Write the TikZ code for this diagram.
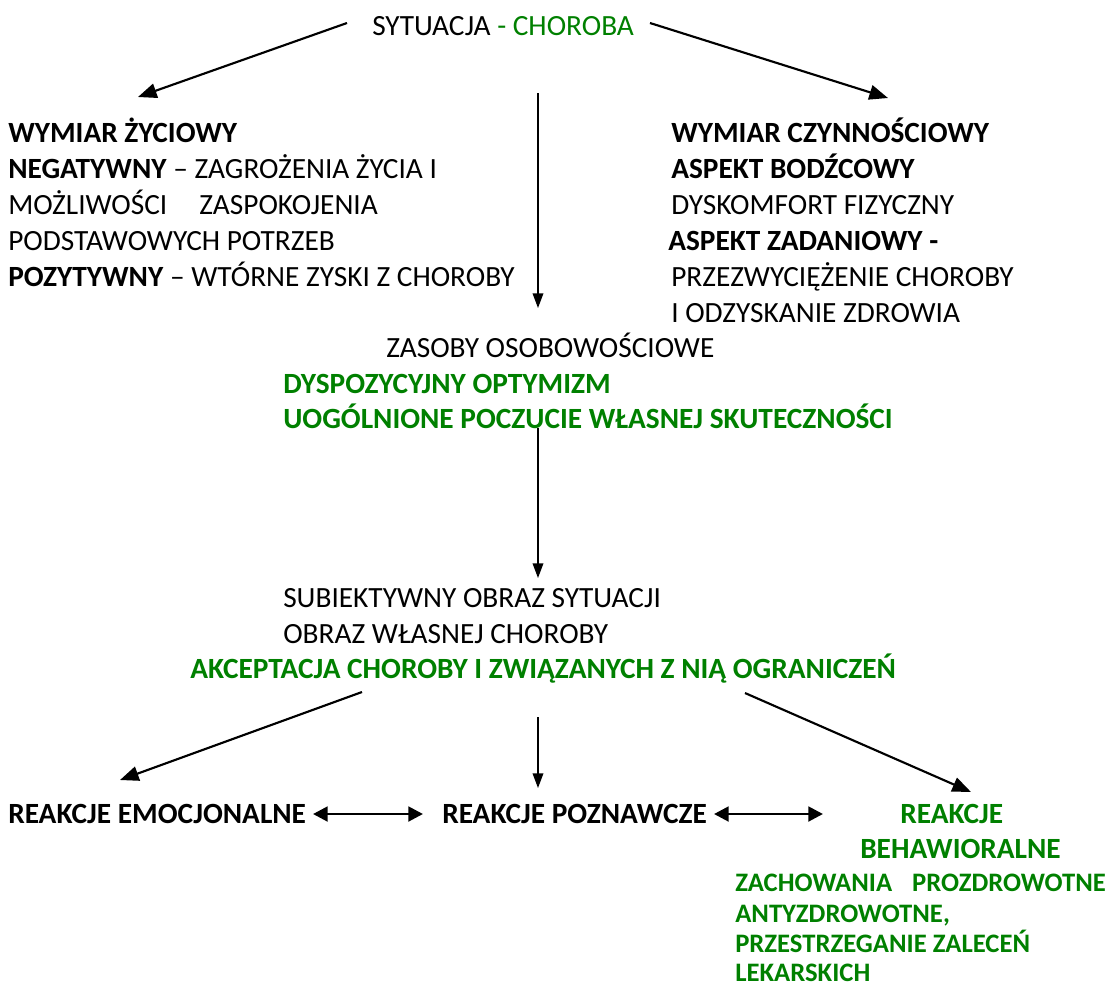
\documentclass[tikz,border=0pt]{standalone}
\usepackage{fontspec}
\setmainfont{Carlito}
\usetikzlibrary{arrows.meta}
\definecolor{zielen}{RGB}{0,128,0}

\begin{document}
\begin{tikzpicture}[x=0.75pt,y=-0.75pt,
    tekst/.style={anchor=base west,inner sep=0pt,font=\fontsize{22}{27}\selectfont},
    maly/.style={anchor=base west,inner sep=0pt,font=\fontsize{20}{24}\selectfont\bfseries,text=zielen},
    skos/.style={line width=1.6pt,-{Triangle[length=14pt,width=11pt]}},
    pion/.style={line width=1pt,-{Triangle[length=11pt,width=8pt]}},
    obustr/.style={line width=2.2pt,{Triangle[length=11pt,width=11pt]}-{Triangle[length=11pt,width=11pt]}}]
        \useasboundingbox (0,0) rectangle (1110,990);
        % gora
        \node[tekst] (sytuacja) at (372,35) {SYTUACJA \textcolor{zielen}{- CHOROBA}};
        % wymiar zyciowy
        \node[tekst] (zyc1) at (8,142) {\textbf{WYMIAR ŻYCIOWY}};
        \node[tekst] (zyc2) at (8,178) {\textbf{NEGATYWNY} – ZAGROŻENIA ŻYCIA I};
        \node[tekst] (zyc3) at (8,214) {MOŻLIWOŚCI\hspace{24pt}ZASPOKOJENIA};
        \node[tekst] (zyc4) at (8,250) {PODSTAWOWYCH POTRZEB};
        \node[tekst] (zyc5) at (8,286) {\textbf{POZYTYWNY} – WTÓRNE ZYSKI Z CHOROBY};
        % wymiar czynnosciowy
        \node[tekst] (czy1) at (671,142) {\textbf{WYMIAR CZYNNOŚCIOWY}};
        \node[tekst] (czy2) at (671,178) {\textbf{ASPEKT BODŹCOWY}};
        \node[tekst] (czy3) at (671,214) {DYSKOMFORT FIZYCZNY};
        \node[tekst] (czy4) at (668,250) {\textbf{ASPEKT ZADANIOWY -}};
        \node[tekst] (czy5) at (671,286) {PRZEZWYCIĘŻENIE CHOROBY};
        \node[tekst] (czy6) at (671,322) {I ODZYSKANIE ZDROWIA};
        % zasoby
        \node[tekst] (zas1) at (386,357) {ZASOBY OSOBOWOŚCIOWE};
        \node[tekst,text=zielen,font=\fontsize{22}{27}\selectfont\bfseries] (zas2) at (283,393) {DYSPOZYCYJNY OPTYMIZM};
        \node[tekst,text=zielen,font=\fontsize{22}{27}\selectfont\bfseries] (zas3) at (283,428) {UOGÓLNIONE POCZUCIE WŁASNEJ SKUTECZNOŚCI};
        % obraz
        \node[tekst] (obr1) at (283,607) {SUBIEKTYWNY OBRAZ SYTUACJI};
        \node[tekst] (obr2) at (283,643) {OBRAZ WŁASNEJ CHOROBY};
        \node[tekst,text=zielen,font=\fontsize{22}{27}\selectfont\bfseries] (obr3) at (190,678) {AKCEPTACJA CHOROBY I ZWIĄZANYCH Z NIĄ OGRANICZEŃ};
        % reakcje
        \node[tekst,font=\fontsize{22}{27}\selectfont\bfseries] (emo) at (8,823) {REAKCJE EMOCJONALNE};
        \node[tekst,font=\fontsize{22}{27}\selectfont\bfseries] (pozn) at (442,823) {REAKCJE POZNAWCZE};
        \node[tekst,text=zielen,font=\fontsize{22}{27}\selectfont\bfseries] (beh1) at (900,823) {REAKCJE};
        \node[tekst,text=zielen,font=\fontsize{22}{27}\selectfont\bfseries] (beh2) at (860,858) {BEHAWIORALNE};
        \node[maly] (zach1) at (735,891) {ZACHOWANIA\hspace{15pt}PROZDROWOTNE};
        \node[maly] (zach2) at (735,922) {ANTYZDROWOTNE,};
        \node[maly] (zach3) at (735,952) {PRZESTRZEGANIE ZALECEŃ};
        \node[maly] (zach4) at (735,981) {LEKARSKICH};

        % konce strzalek
        \coordinate (s-l) at (347,23);
        \coordinate (s-r) at (650,23);
        \coordinate (zyc-kon) at (138,97);
        \coordinate (czy-kon) at (888,98);
        \coordinate (pion1-pocz) at (538,93);
        \coordinate (pion1-kon) at (538,308);
        \coordinate (pion2-pocz) at (538,428);
        \coordinate (pion2-kon) at (538,578);
        \coordinate (a-l) at (362,692);
        \coordinate (a-s) at (538,717);
        \coordinate (a-r) at (745,693);
        \coordinate (emo-kon) at (120,780);
        \coordinate (pozn-kon) at (538,788);
        \coordinate (beh-kon) at (971,792);
        \coordinate (d1-l) at (313,814);
        \coordinate (d1-r) at (423,814);
        \coordinate (d2-l) at (714,814);
        \coordinate (d2-r) at (823,814);

        \draw[skos] (s-l) -- (zyc-kon);
        \draw[skos] (s-r) -- (czy-kon);
        \draw[pion] (pion1-pocz) -- (pion1-kon);
        \draw[pion] (pion2-pocz) -- (pion2-kon);
        \draw[skos] (a-l) -- (emo-kon);
        \draw[pion] (a-s) -- (pozn-kon);
        \draw[skos] (a-r) -- (beh-kon);
        \draw[obustr] (d1-l) -- (d1-r);
        \draw[obustr] (d2-l) -- (d2-r);
\end{tikzpicture}
\end{document}
